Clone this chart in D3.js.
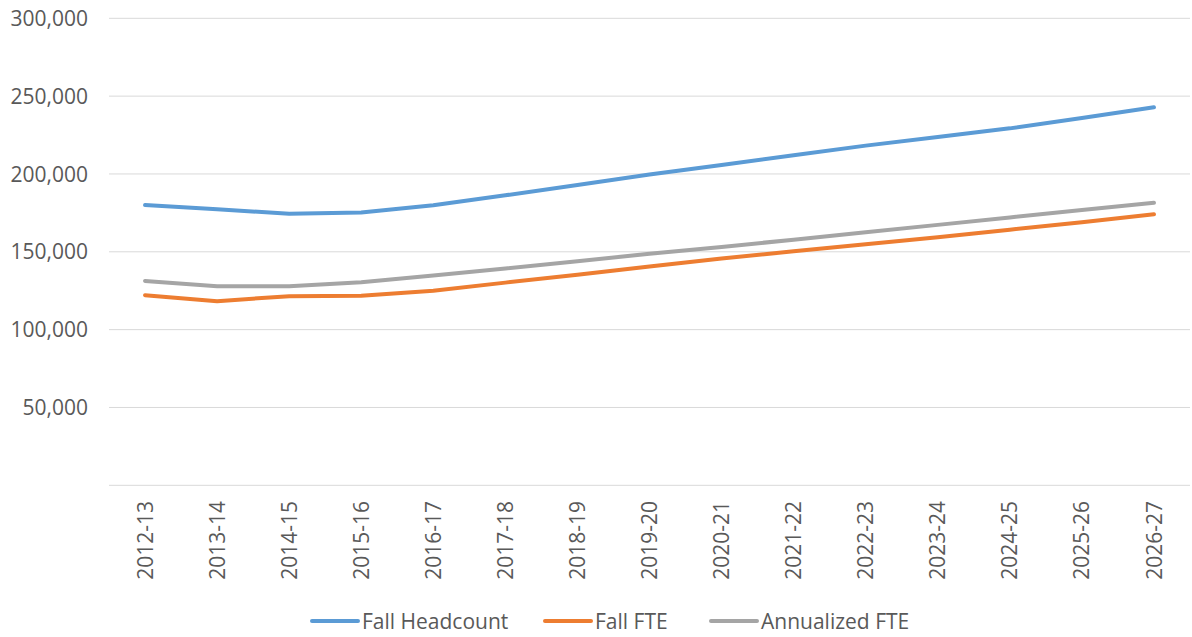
<!DOCTYPE html>
<html>
<head>
<meta charset="utf-8">
<script src="https://cdn.jsdelivr.net/npm/d3@7"></script>
<style>
  body { margin: 0; background: #fff; }
  text { font-family: "Open Sans", sans-serif; fill: #595959; }
</style>
</head>
<body>
<svg width="1192" height="637"></svg>
<script>
const years = ["2012-13", "2013-14", "2014-15", "2015-16", "2016-17", "2017-18", "2018-19",
  "2019-20", "2020-21", "2021-22", "2022-23", "2023-24", "2024-25", "2025-26", "2026-27"];

const fallHeadcount = [180000, 177300, 174500, 175200, 179900, 186300, 192900, 199600,
  205800, 212000, 218200, 223800, 229300, 236000, 242900];
const fallFTE = [122100, 118300, 121500, 121700, 125000, 130200, 135300, 140600,
  145700, 150300, 154800, 159300, 164200, 169000, 174100];
const annualizedFTE = [131300, 127900, 127900, 130500, 134800, 139300, 144000, 148700,
  153100, 157800, 162500, 167300, 172100, 176800, 181500];

const yTicks = [50000, 100000, 150000, 200000, 250000, 300000];

const series = [
  { name: "Fall Headcount", values: fallHeadcount, color: "#5B9BD5" },
  { name: "Fall FTE", values: fallFTE, color: "#ED7D31" },
  { name: "Annualized FTE", values: annualizedFTE, color: "#A5A5A5" }
];

const svg = d3.select("svg");
const plotLeft = 109, plotRight = 1190, plotTop = 18.3, plotBottom = 485.3;

const x = d3.scaleBand().domain(years).range([plotLeft, plotRight]);
const y = d3.scaleLinear().domain([0, 300000]).range([plotBottom, plotTop]);
const fmt = d3.format(",");

// gridlines
svg.append("g")
  .selectAll("line")
  .data(yTicks)
  .join("line")
  .attr("x1", plotLeft).attr("x2", plotRight)
  .attr("y1", d => y(d)).attr("y2", d => y(d))
  .attr("stroke", "#D9D9D9")
  .attr("stroke-width", 1);

// baseline
svg.append("line")
  .attr("x1", plotLeft).attr("x2", plotRight)
  .attr("y1", y(0)).attr("y2", y(0))
  .attr("stroke", "#D9D9D9")
  .attr("stroke-width", 1);

// y labels
svg.append("g")
  .selectAll("text")
  .data(yTicks)
  .join("text")
  .attr("x", 88)
  .attr("y", d => y(d))
  .attr("dy", "0.36em")
  .attr("text-anchor", "end")
  .style("font-size", "21px")
  .text(d => fmt(d));

// x labels
svg.append("g")
  .selectAll("text")
  .data(years)
  .join("text")
  .attr("transform", d => "translate(" + (x(d) + x.bandwidth() / 2) + ",501) rotate(-90)")
  .attr("dy", "0.36em")
  .attr("text-anchor", "end")
  .style("font-size", "21px")
  .text(d => d);

// lines
const line = d3.line()
  .x((d, i) => x(years[i]) + x.bandwidth() / 2)
  .y(d => y(d));

svg.append("g")
  .selectAll("path")
  .data(series)
  .join("path")
  .attr("d", d => line(d.values))
  .attr("fill", "none")
  .attr("stroke", d => d.color)
  .attr("stroke-width", 4)
  .attr("stroke-linecap", "round")
  .attr("stroke-linejoin", "round");

// legend
const legendX = [312, 545, 711];
const legend = svg.append("g")
  .selectAll("g")
  .data(series)
  .join("g")
  .attr("transform", (d, i) => "translate(" + legendX[i] + ",621)");

legend.append("line")
  .attr("x1", 0).attr("x2", 46)
  .attr("stroke", d => d.color)
  .attr("stroke-width", 4)
  .attr("stroke-linecap", "round");

legend.append("text")
  .attr("x", 50)
  .attr("dy", "0.36em")
  .style("font-size", "21px")
  .text(d => d.name);
</script>
</body>
</html>
